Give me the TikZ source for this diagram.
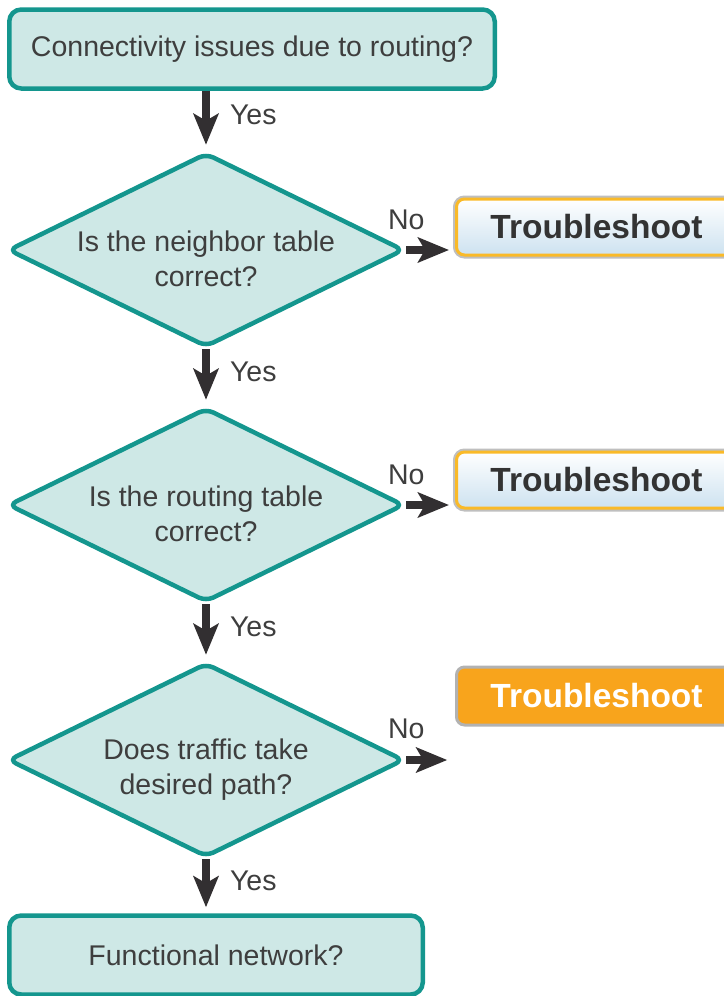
\documentclass[tikz,border=0pt]{standalone}
\usepackage{fontspec}
\setmainfont{Liberation Sans}
\definecolor{tealline}{RGB}{20,150,142}
\definecolor{tealfill}{RGB}{206,232,230}
\definecolor{inkgray}{RGB}{62,62,62}
\definecolor{arrowgray}{RGB}{50,47,49}
\definecolor{fixorange}{RGB}{248,164,28}
\definecolor{fixrim}{RGB}{250,186,40}
\definecolor{fixblue}{RGB}{205,226,240}
\usepackage{tikz}
\usetikzlibrary{arrows.meta,positioning,shapes.geometric}

\begin{document}
\begin{tikzpicture}[x=1pt,y=-1pt,>={Stealth[length=31pt,width=25pt,inset=7pt]},
  every node/.style={font=\fontsize{28.5}{35}\selectfont,text=inkgray},
  block/.style={rectangle,rounded corners=12pt,draw=tealline,fill=tealfill,line width=4.5pt,minimum height=79pt,inner sep=0pt},
  decision/.style={diamond,aspect=2.05,draw=tealline,fill=tealfill,line width=4.5pt,rounded corners=8pt,align=center,inner sep=-16pt,minimum width=396pt,minimum height=194pt},
  fix/.style={rectangle,rounded corners=8pt,minimum width=280pt,anchor=west,font=\fontsize{33.5}{40}\selectfont\bfseries},
  fixlight/.style={fix,minimum height=56pt,preaction={draw=gray!50,line width=7pt},draw=fixrim,line width=3pt,top color=white,bottom color=fixblue,text=black!80},
  fixhot/.style={fix,minimum height=58pt,draw=gray!60,line width=3pt,fill=fixorange,text=white},
  arrow/.style={->,line width=8pt,draw=arrowgray,shorten >=6pt},
  lbl/.style={inner sep=2pt}]

  \useasboundingbox (0,0) rectangle (723,996);

  \node[block,minimum width=485.5pt] (conn) at (252,49) {Connectivity issues due to routing?};
  \node[decision] (nbr) at (206,250) {\rule{0pt}{39pt}Is the neighbor table\\correct?};
  \node[decision] (rtab) at (206,505) {\rule{0pt}{39pt}Is the routing table\\correct?};
  \node[decision] (trf) at (206,760) {\rule{0pt}{39pt}Does traffic take\\desired path?};
  \node[block,minimum width=413.5pt] (func) at (216,955) {Functional network?};

  \node[fixlight] (fixnbr) at (455,227) {Troubleshoot};
  \node[fixlight] (fixrtab) at (455,480) {Troubleshoot};
  \node[fixhot] (fixtrf) at (455,696) {Troubleshoot};
  \coordinate[right=47pt of trf.east] (trfend);

  \draw[arrow] (nbr.north |- conn.south) -- node[lbl,right=18pt,pos=0.4]{Yes} (nbr.north);
  \draw[arrow] (nbr) -- node[lbl,right=18pt,pos=0.4]{Yes} (rtab);
  \draw[arrow] (rtab) -- node[lbl,right=18pt,pos=0.4]{Yes} (trf);
  \draw[arrow] (trf.south) -- node[lbl,right=18pt,pos=0.4]{Yes} (trf.south |- func.north);

  \draw[arrow] (nbr.east) -- node[lbl,above=14pt,pos=0]{No} (nbr.east -| fixnbr.west);
  \draw[arrow] (rtab.east) -- node[lbl,above=14pt,pos=0]{No} (rtab.east -| fixrtab.west);
  \draw[arrow] (trf.east) -- node[lbl,above=15pt,pos=0]{No} (trfend);
\end{tikzpicture}
\end{document}
